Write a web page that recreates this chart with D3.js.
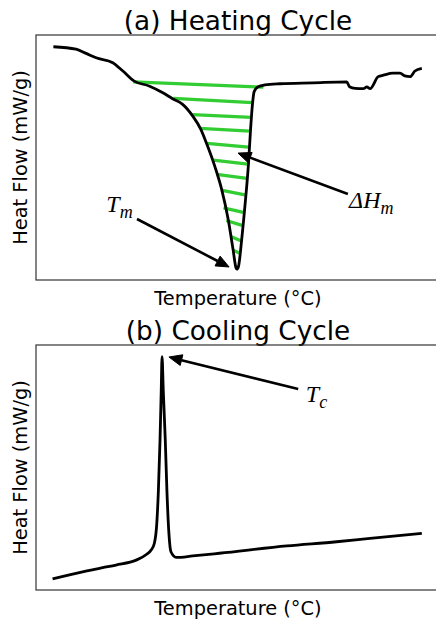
<!DOCTYPE html>
<html><head><meta charset="utf-8">
<script src="https://cdn.jsdelivr.net/npm/d3@7"></script>
<style>body{margin:0;background:#fff} svg{display:block}</style>
</head><body><svg id="c" width="436" height="619"></svg>
<script>
// ---------- data (arbitrary units) ----------
const heatT = [4.3, 9.9, 12.4, 14.9, 19.0, 21.5, 24.3, 28.0, 31.4, 33.8, 36.3, 38.8, 40.8, 42.3, 44.3, 46.0, 47.6, 48.8, 49.5, 49.7, 50.1, 50.9, 51.7, 52.6, 53.1, 53.6, 54.0, 55.0, 56.7, 60.4, 68.6, 76.9, 77.6, 79.0, 81.0, 81.9, 82.7, 84.7, 86.0, 88.4, 90.1, 91.3, 92.6, 93.8, 95.5];
const heatF = [9.52, 9.42, 9.25, 9.07, 8.87, 8.53, 8.12, 7.92, 7.64, 7.40, 7.17, 6.69, 6.15, 5.54, 4.62, 3.67, 2.45, 1.22, 0.50, 0.44, 0.54, 1.63, 2.99, 4.76, 6.12, 7.21, 7.69, 7.89, 7.96, 8.01, 8.05, 8.09, 7.89, 7.82, 7.81, 7.88, 7.81, 8.30, 8.36, 8.44, 8.44, 8.33, 8.30, 8.53, 8.64];

// hatch strokes marking the melting enthalpy area (start / end points)
const hatchT1 = [24.1, 34.0, 38.7, 40.6, 42.3, 43.9, 44.7, 45.8, 46.4, 47.1, 48.2, 48.8];
const hatchF1 = [8.09, 7.41, 6.75, 6.19, 5.58, 4.89, 4.31, 3.67, 2.94, 2.43, 1.78, 1.22];
const hatchT2 = [56.3, 53.6, 53.3, 52.9, 52.6, 52.4, 52.2, 51.7, 51.3, 51.0, 50.7, 50.3];
const hatchF2 = [7.87, 7.24, 6.64, 6.08, 5.42, 4.73, 4.15, 3.47, 2.76, 2.23, 1.60, 1.10];

const coolT = [4.1, 9.9, 16.5, 19.8, 24.8, 27.4, 28.5, 29.3, 29.9, 30.3, 30.7, 31.0, 31.2, 31.5, 32.0, 32.4, 32.9, 33.4, 34.7, 38.8, 45.4, 62.1, 74.4, 82.7, 95.5];
const coolF = [0.45, 0.68, 0.91, 1.02, 1.22, 1.46, 1.63, 1.91, 2.72, 4.08, 6.12, 8.16, 9.52, 8.16, 6.12, 4.08, 2.31, 1.56, 1.33, 1.39, 1.50, 1.80, 1.97, 2.11, 2.31];

const titles = ["(a) Heating Cycle", "(b) Cooling Cycle"];
const xLabel = "Temperature (°C)";
const yLabel = "Heat Flow (mW/g)";

// annotations: [label main, subscript, text T, text F, arrow from T, from F, arrow tip T, tip F]
const heatAnn = [
  ["T", "m", 17.4, 2.78, 25.0, 2.49, 47.8, 0.53],
  ["\u0394H", "m", 77.5, 2.94, 77.2, 3.51, 50.0, 5.18]
];
const coolAnn = [
  ["T", "c", 66.8, 7.69, 64.9, 8.20, 32.9, 9.51]
];

// ---------- drawing ----------
const svg = d3.select("#c");
const W = {left: 36, right: 440, h: 245};
const panels = [
  {top: 35, title: titles[0], T: heatT, F: heatF, ann: heatAnn, hatch: true},
  {top: 345, title: titles[1], T: coolT, F: coolF, ann: coolAnn, hatch: false}
];

const x = d3.scaleLinear().domain([0, 100]).range([W.left, W.right]);

panels.forEach(p => {
  const y = d3.scaleLinear().domain([0, 10]).range([p.top + W.h, p.top]);
  const g = svg.append("g");

  // title
  g.append("text").attr("x", (W.left + W.right) / 2).attr("y", p.top - 5)
    .attr("text-anchor", "middle").attr("font-family", "DejaVu Sans")
    .attr("font-size", 26.3).attr("fill", "#000").text(p.title);
  // x label
  g.append("text").attr("x", (W.left + W.right) / 2).attr("y", p.top + W.h + 25)
    .attr("text-anchor", "middle").attr("font-family", "DejaVu Sans")
    .attr("font-size", 19.4).attr("fill", "#000").text(xLabel);
  // y label
  g.append("text").attr("transform", `translate(27,${p.top + W.h / 2}) rotate(-90)`)
    .attr("text-anchor", "middle").attr("font-family", "DejaVu Sans")
    .attr("font-size", 19.4).attr("fill", "#000").text(yLabel);

  // hatch lines
  if (p.hatch) {
    g.selectAll("line.h").data(hatchT1).enter().append("line")
      .attr("x1", (d, i) => x(hatchT1[i])).attr("y1", (d, i) => y(hatchF1[i]))
      .attr("x2", (d, i) => x(hatchT2[i])).attr("y2", (d, i) => y(hatchF2[i]))
      .attr("stroke", "#32CD32").attr("stroke-width", 3.3);
  }

  // curve
  const line = d3.line().x((d, i) => x(p.T[i])).y((d, i) => y(p.F[i])).curve(d3.curveMonotoneX);
  g.append("path").datum(p.T).attr("d", line).attr("fill", "none")
    .attr("stroke", "#000").attr("stroke-width", 2.8).attr("stroke-linejoin", "round");

  // annotations
  p.ann.forEach(a => {
    const [main, sub, tx, tf, fx, ff, hx, hf] = a;
    const t = g.append("text").attr("x", x(tx)).attr("y", y(tf))
      .attr("font-family", "Liberation Serif").attr("font-style", "italic")
      .attr("font-size", 24).attr("fill", "#000");
    t.append("tspan").text(main);
    t.append("tspan").attr("dy", 6).attr("font-size", 18).text(sub);

    const x0 = x(fx), y0 = y(ff), x1 = x(hx), y1 = y(hf);
    const dx = x1 - x0, dy = y1 - y0, L = Math.hypot(dx, dy);
    const ux = dx / L, uy = dy / L, hl = 13, hw = 5.5;
    const bx = x1 - ux * hl, by = y1 - uy * hl;
    g.append("line").attr("x1", x0).attr("y1", y0).attr("x2", bx).attr("y2", by)
      .attr("stroke", "#000").attr("stroke-width", 2.6);
    g.append("path").attr("d", `M${x1},${y1}L${bx - uy * hw},${by + ux * hw}L${bx + uy * hw},${by - ux * hw}Z`)
      .attr("fill", "#000").attr("stroke", "#000").attr("stroke-width", 1);
  });

  // spines
  g.append("rect").attr("x", W.left).attr("y", p.top).attr("width", W.right - W.left).attr("height", W.h)
    .attr("fill", "none").attr("stroke", "#333").attr("stroke-width", 1.2);
});
</script></body></html>
